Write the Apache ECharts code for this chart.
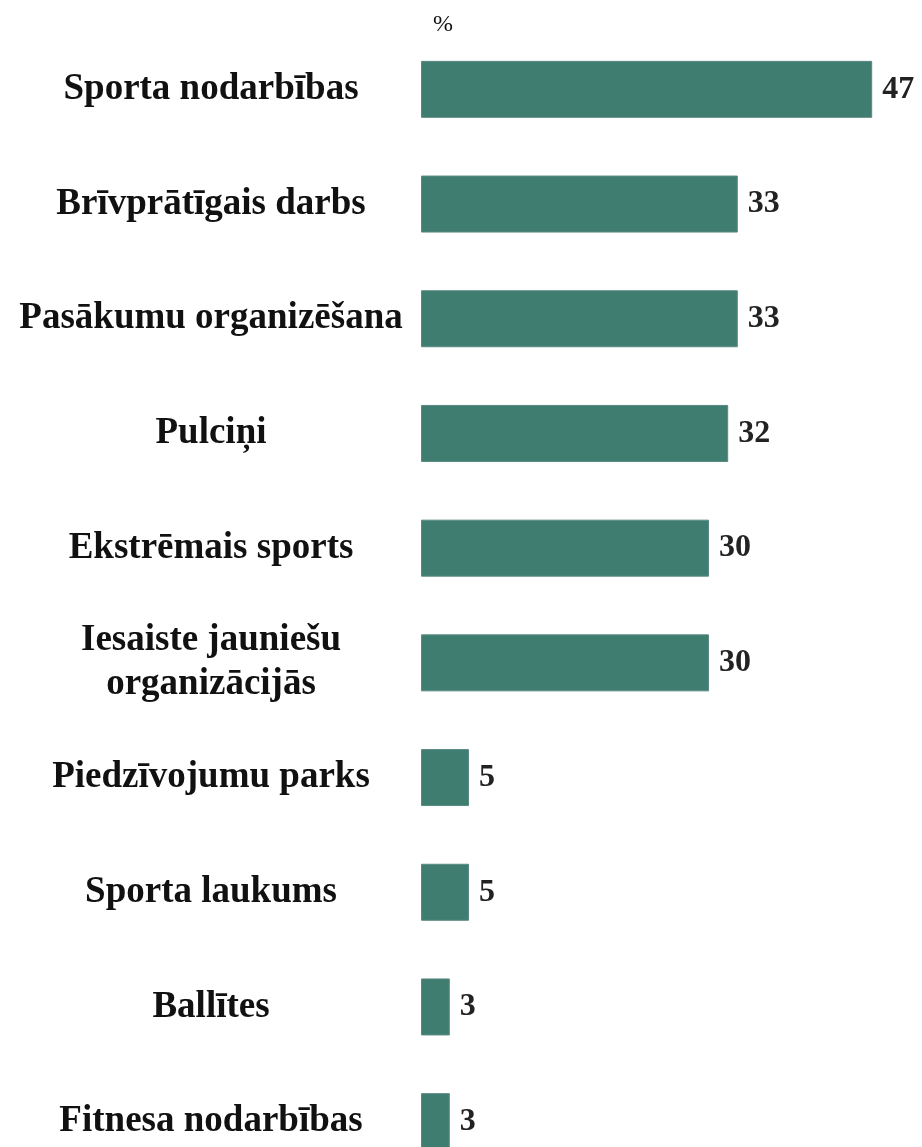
<!DOCTYPE html>
<html>
<head>
<meta charset="utf-8">
<script src="https://cdn.jsdelivr.net/npm/echarts@6/dist/echarts.min.js"></script>
<style>
  html, body { margin: 0; padding: 0; background: #fff; }
  #chart { width: 922px; height: 1147px; }
</style>
</head>
<body>
<div id="chart"></div>
<script>
const categories = [
  "Sporta nodarbības",
  "Brīvprātīgais darbs",
  "Pasākumu organizēšana",
  "Pulciņi",
  "Ekstrēmais sports",
  "Iesaiste jauniešu\norganizācijās",
  "Piedzīvojumu parks",
  "Sporta laukums",
  "Ballītes",
  "Fitnesa nodarbības"
];
const values = [47, 33, 33, 32, 30, 30, 5, 5, 3, 3];
const unitLabel = "%";

const serif = "'Liberation Serif', 'DejaVu Serif', serif";

const chart = echarts.init(document.getElementById("chart"));
chart.setOption({
  animation: false,
  title: {
    text: unitLabel,
    left: 428,
    top: 8,
    textStyle: { fontFamily: serif, fontSize: 24, fontWeight: "normal", color: "#111" }
  },
  // last band runs past the bottom edge, as in the source image
  grid: { left: 421, top: 32, width: 480, height: 1147, outerBoundsMode: "none", containLabel: false },
  xAxis: {
    type: "value",
    min: 0,
    max: 50,
    show: false
  },
  yAxis: {
    type: "category",
    inverse: true,
    data: categories,
    axisLine: { show: false },
    axisTick: { show: false },
    axisLabel: {
      margin: 210,
      align: "center",
      fontFamily: serif,
      fontWeight: "bold",
      fontSize: 37,
      lineHeight: 44,
      color: "#111"
    }
  },
  series: [
    {
      type: "bar",
      data: values,
      barWidth: 57,
      itemStyle: { color: "#3f7d71", borderColor: "#5a8a80", borderWidth: 1 },
      label: {
        show: true,
        position: "right",
        distance: 10,
        fontFamily: serif,
        fontWeight: "bold",
        fontSize: 32,
        color: "#222"
      }
    }
  ]
});
</script>
</body>
</html>
